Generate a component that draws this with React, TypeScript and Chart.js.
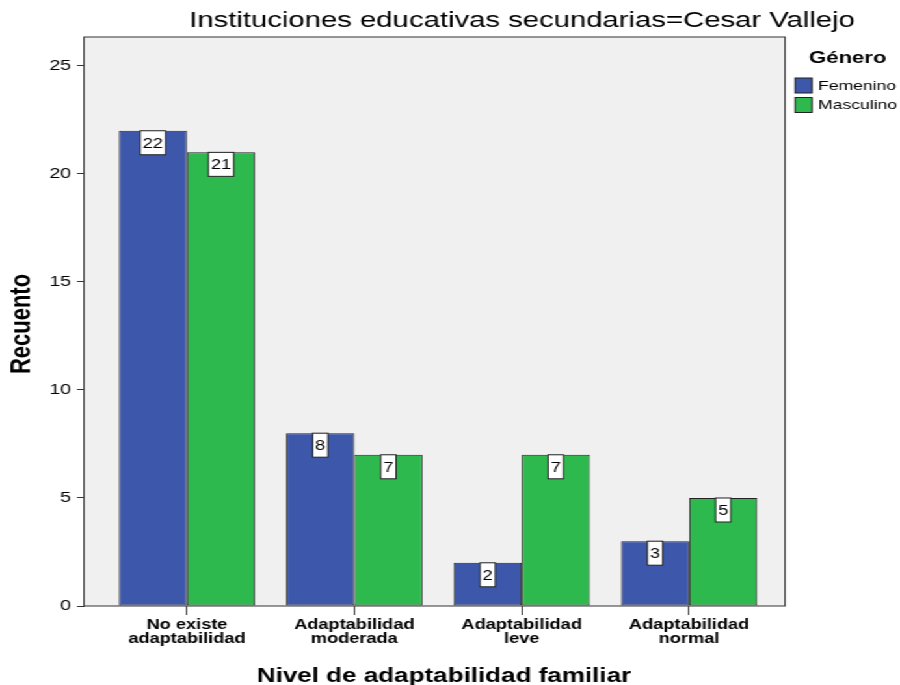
import React, { useEffect, useRef } from 'react';
import { Chart, registerables } from 'chart.js';

Chart.register(...registerables);

const categories: string[][] = [
  ['No existe', 'adaptabilidad'],
  ['Adaptabilidad', 'moderada'],
  ['Adaptabilidad', 'leve'],
  ['Adaptabilidad', 'normal'],
];
const femenino = [22, 8, 2, 3];
const masculino = [21, 7, 7, 5];
const yTicks = [0, 5, 10, 15, 20, 25];
const seriesNames = ['Femenino', 'Masculino'];
const seriesColors = ['#3d57ab', '#2db94d'];
const titleText = 'Instituciones educativas secundarias=Cesar Vallejo';
const xTitle = 'Nivel de adaptabilidad familiar';
const yTitle = 'Recuento';
const legendTitle = 'Género';

const W = 692;
const H = 685;
const SX = 900 / W;
const AREA = { left: 64.6, right: 603.6, top: 37, bottom: 606 };
const FONT = '"Liberation Sans", Arial, sans-serif';

const decorPlugin = {
  id: 'decor',
  beforeDatasetsDraw(chart: any) {
    const { ctx, chartArea: a } = chart;
    ctx.save();
    ctx.fillStyle = '#f0f0f0';
    ctx.fillRect(a.left, a.top, a.right - a.left, a.bottom - a.top);
    ctx.restore();
  },
  afterDatasetsDraw(chart: any) {
    const { ctx, chartArea: a } = chart;
    ctx.save();
    ctx.strokeStyle = '#333';
    ctx.lineWidth = 1;
    ctx.strokeRect(a.left, a.top, a.right - a.left, a.bottom - a.top);

    // value labels
    ctx.font = `14px ${FONT}`;
    ctx.textAlign = 'center';
    ctx.textBaseline = 'middle';
    chart.data.datasets.forEach((ds: any, di: number) => {
      const meta = chart.getDatasetMeta(di);
      meta.data.forEach((bar: any, i: number) => {
        const txt = String(ds.data[i].y);
        const tw = ctx.measureText(txt).width;
        const bw = tw + 4;
        const bh = 24;
        const x = bar.x;
        const y = bar.y;
        ctx.fillStyle = '#ffffff';
        ctx.fillRect(x - bw / 2, y, bw, bh);
        ctx.strokeStyle = '#222';
        ctx.strokeRect(x - bw / 2, y, bw, bh);
        ctx.fillStyle = '#000';
        ctx.fillText(txt, x, y + bh / 2 + 1);
      });
    });
    ctx.restore();
  },
  afterDraw(chart: any) {
    const { ctx } = chart;
    ctx.save();
    ctx.fillStyle = '#000';
    // title
    ctx.font = `22.5px ${FONT}`;
    ctx.textAlign = 'center';
    ctx.textBaseline = 'alphabetic';
    ctx.fillText(titleText, 401.4, 27);
    // x title
    ctx.font = `bold 20px ${FONT}`;
    ctx.fillText(xTitle, 341.4, 682);
    // y title
    ctx.save();
    ctx.translate(17.3, 324);
    ctx.rotate(-Math.PI / 2);
    ctx.font = `bold 22px ${FONT}`;
    ctx.textBaseline = 'middle';
    ctx.fillText(yTitle, 0, 0);
    ctx.restore();
    // legend
    ctx.textAlign = 'left';
    ctx.font = `bold 17px ${FONT}`;
    ctx.fillText(legendTitle, 622, 63);
    ctx.font = `13.5px ${FONT}`;
    ctx.textBaseline = 'middle';
    seriesNames.forEach((name, i) => {
      const y = 78 + i * 19.5;
      ctx.fillStyle = seriesColors[i];
      ctx.fillRect(611.3, y, 13, 15);
      ctx.strokeStyle = '#222';
      ctx.lineWidth = 1;
      ctx.strokeRect(611.3, y, 13, 15);
      ctx.fillStyle = '#000';
      ctx.fillText(name, 629, y + 8);
    });
    ctx.restore();
  },
};

export default function App() {
  const ref = useRef<HTMLCanvasElement>(null);
  useEffect(() => {
    if (!ref.current) return;
    const chart = new Chart(ref.current, {
      type: 'bar',
      data: {
        datasets: [
          {
            label: seriesNames[0],
            data: femenino.map((y, i) => ({ x: i, y })),
            backgroundColor: seriesColors[0],
            borderColor: '#222',
            borderWidth: 1,
            borderSkipped: false,
            categoryPercentage: 0.814,
            barPercentage: 1,
          },
          {
            label: seriesNames[1],
            data: masculino.map((y, i) => ({ x: i, y })),
            backgroundColor: seriesColors[1],
            borderColor: '#222',
            borderWidth: 1,
            borderSkipped: false,
            categoryPercentage: 0.814,
            barPercentage: 1,
          },
        ] as any,
      },
      options: {
        responsive: false,
        animation: false,
        devicePixelRatio: 1,
        layout: { padding: { left: 0, right: W - AREA.right, top: AREA.top, bottom: 0 } },
        plugins: { legend: { display: false }, title: { display: false }, tooltip: { enabled: false } },
        scales: {
          x: {
            type: 'linear',
            min: -0.615,
            max: 3.573,
            offset: false,
            afterBuildTicks: (s: any) => {
              s.ticks = categories.map((_, i) => ({ value: i }));
            },
            afterFit: (s: any) => {
              s.height = H - AREA.bottom;
            },
            grid: { drawOnChartArea: false, drawTicks: true, tickLength: 9, color: '#333', offset: false },
            border: { display: false },
            ticks: {
              callback: (v: any) => categories[Math.round(v)],
              font: { family: FONT, size: 14, weight: 'bold', lineHeight: 1.0 },
              color: '#000',
              padding: 3,
              maxRotation: 0,
              autoSkip: false,
            },
          },
          y: {
            min: 0,
            max: 26.34,
            afterBuildTicks: (s: any) => {
              s.ticks = yTicks.map((v) => ({ value: v }));
            },
            afterFit: (s: any) => {
              s.width = AREA.left;
            },
            grid: { drawOnChartArea: false, drawTicks: true, tickLength: 5.4, color: '#333' },
            border: { display: false },
            ticks: { padding: 4.6, font: { family: FONT, size: 15 }, color: '#000' },
          },
        } as any,
      },
      plugins: [decorPlugin],
    });
    return () => chart.destroy();
  }, []);
  return (
    <div
      style={{
        position: 'absolute',
        left: 0,
        top: 0,
        width: W,
        height: H,
        transform: `scaleX(${SX})`,
        transformOrigin: '0 0',
        background: '#fff',
      }}
    >
      <canvas ref={ref} width={W} height={H} style={{ width: W, height: H, display: 'block' }} />
    </div>
  );
}
